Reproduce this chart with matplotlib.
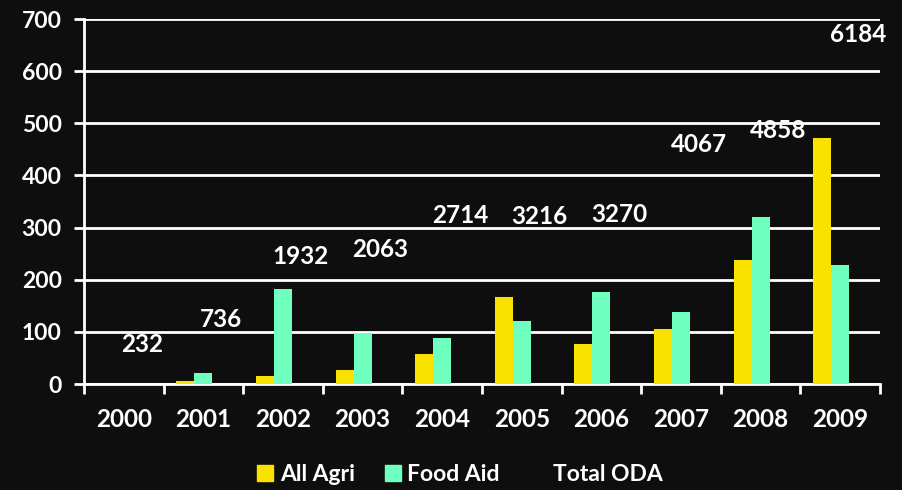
import matplotlib
matplotlib.use("Agg")
import matplotlib.pyplot as plt
import matplotlib.patches as mpatches
import numpy as np

years = ["2000", "2001", "2002", "2003", "2004", "2005", "2006", "2007", "2008", "2009"]
all_agri = [0, 5, 15, 26, 57, 166, 76, 105, 237, 471]
food_aid = [0, 22, 183, 97, 89, 120, 176, 139, 321, 229]
total_oda = [232, 736, 1932, 2063, 2714, 3216, 3270, 4067, 4858, 6184]
# heights (in left-axis units) at which the Total ODA labels sit
oda_label_y = [76, 124, 245, 258, 323, 321, 326, 460, 486, 670]

BG = "#0e0e0e"
YELLOW = "#f9e100"
GREEN = "#6fffbf"
plt.rcParams["font.family"] = ["Lato", "DejaVu Sans"]

fig = plt.figure(figsize=(9.03, 4.90), dpi=100, facecolor=BG)
ax = fig.add_axes([0.093, 0.2163, 0.8815, 0.7447], facecolor=BG)

x = np.arange(len(years))
w = 0.226
ax.bar(x - w, all_agri, width=w, color=YELLOW, zorder=3, label="All Agri")
ax.bar(x, food_aid, width=w, color=GREEN, zorder=3, label="Food Aid")

for xi, v, ly in zip(x, total_oda, oda_label_y):
    ax.text(xi + w, ly, str(v), color="white", fontsize=17.5, fontweight="bold",
            ha="center", va="center", zorder=4)

ax.set_xlim(-0.5, len(years) - 0.5)
ax.set_ylim(0, 700)
ax.set_yticks(np.arange(0, 701, 100))
ax.yaxis.grid(True, color="white", linewidth=2, zorder=1)
ax.set_axisbelow(True)

ax.set_xticks(x)
ax.set_xticklabels(years)
ax.set_xticks(np.arange(-0.5, len(years)), minor=True)
ax.tick_params(axis="x", which="major", length=0, pad=17, labelsize=17.5, labelcolor="white")
ax.tick_params(axis="x", which="minor", length=7, width=2, color="white", direction="out")
ax.tick_params(axis="y", length=7, width=2, color="white", pad=9, labelsize=16.5, labelcolor="white")
for lbl in ax.get_xticklabels() + ax.get_yticklabels():
    lbl.set_fontweight("bold")

for s in ["top", "right"]:
    ax.spines[s].set_visible(False)
ax.spines["left"].set_color("white")
ax.spines["left"].set_linewidth(2)
ax.spines["bottom"].set_color("white")
ax.spines["bottom"].set_linewidth(2)

handles = [mpatches.Patch(color=YELLOW, label="All Agri"),
           mpatches.Patch(color=GREEN, label="Food Aid"),
           mpatches.Patch(color=BG, alpha=0, label="Total ODA")]
leg = fig.legend(handles=handles, loc="center", bbox_to_anchor=(0.509, 0.031), ncol=3,
                 frameon=False, handlelength=0.7, handleheight=0.7,
                 handletextpad=0.3, columnspacing=1.3,
                 prop={"weight": "bold", "size": 16.5})
for t in leg.get_texts():
    t.set_color("white")

fig.savefig("out.png", dpi=100, facecolor=BG)
